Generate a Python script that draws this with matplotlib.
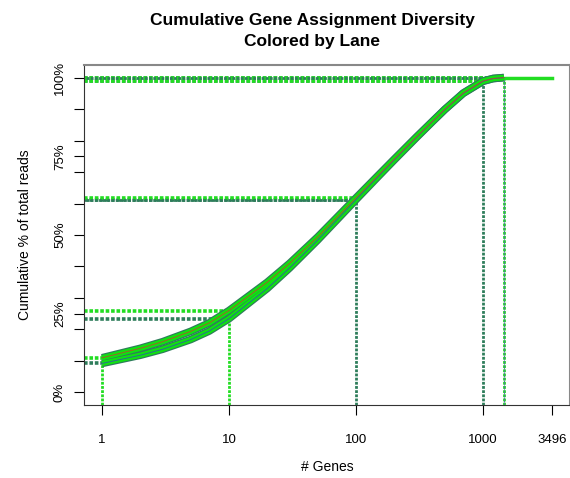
import matplotlib
matplotlib.use("Agg")
import matplotlib.pyplot as plt
import numpy as np

plt.rcParams['font.family'] = ['Liberation Sans', 'DejaVu Sans']

# cumulative % of reads covered by the top-N genes, one curve per lane
genes = [1, 2, 3, 5, 7, 10, 20, 30, 50, 70, 100, 150, 200, 300, 400, 500, 700, 1000, 1200, 1462]
lane1 = [9.2, 11.8, 13.7, 16.8, 19.5, 23.4, 33.0, 39.5, 48.4, 54.6, 61.2, 68.6, 73.8, 81.0, 86.0, 89.8, 95.0, 98.8, 99.7, 100.0]
lane2 = [11.0, 14.0, 16.1, 19.4, 22.1, 26.0, 35.0, 41.0, 49.4, 55.4, 61.8, 69.0, 74.1, 81.2, 86.1, 89.9, 95.1, 98.9, 99.7, 100.0]
lanes = [lane1, lane2]
lane_cols = ['#2E7D5B', '#22DD22']
mark_genes = [1, 10, 100, 1000, 1462]
vert_cols = ['#22DD22', '#22DD22', '#2E7D5B', '#2E7D5B', '#22DD22']
total_genes = 3496

fig = plt.figure(figsize=(5.7, 4.78), dpi=100)
ax = fig.add_axes([84/570, 1 - 405/478, 486/570, 340/478])

xmin, xmax = np.log10(1), np.log10(total_genes)
pad = 0.04 * (xmax - xmin)
ax.set_xscale('log')
ax.set_xlim(10**(xmin - pad), 10**(xmax + pad))
ax.set_ylim(-4, 104)

dots = (0, (1, 0.5))
# horizontal dotted guides from the axis to each marked gene count
for vals, col in zip(lanes, lane_cols):
    for g in mark_genes:
        v = vals[genes.index(g)]
        ax.plot([10**(xmin - pad), g], [v, v], color=col, lw=2.6, ls=dots, zorder=2)
# the upper ones at 100 genes and 100% are darker, drawn over
for g in [100, 1462]:
    v = lane1[genes.index(g)]
    ax.plot([10**(xmin - pad), g], [v, v], color='#2E7D5B', lw=2.0, ls=(0.75, (1, 0.5)), zorder=2)

# vertical dotted guides down to the x axis
for g, col in zip(mark_genes, vert_cols):
    v = min(lane1[genes.index(g)], lane2[genes.index(g)])
    ax.plot([g, g], [-4, v], color=col, lw=2.0, ls=dots, zorder=2)
ax.plot([1462, 1462], [-4, 100], color='#5070A0', lw=0.8, ls=dots, zorder=2)

# flat line out to the total number of genes
ax.plot([1462, total_genes], [100, 100], color='#22DD22', lw=2.5, zorder=3)

thin = ['#3050B0', '#C04030']
for vals in lanes:
    ax.plot(genes, vals, color='#2E7D5B', lw=5.5, solid_capstyle='butt', zorder=3)
for vals, tc in zip(lanes, thin):
    ax.plot(genes, vals, color='#11E011', lw=3.8, solid_capstyle='butt', zorder=4)
    ax.plot(genes, vals, color=tc, lw=0.7, alpha=0.8, zorder=5)

ax.set_xticks([1, 10, 100, 1000, total_genes])
ax.set_xticklabels(['1', '10', '100', '1000', str(total_genes)])
ax.xaxis.set_minor_locator(matplotlib.ticker.NullLocator())
ax.set_yticks([0, 10, 20, 25, 30, 40, 50, 60, 70, 75, 80, 90, 100])
ax.set_yticklabels(['0%', '', '', '25%', '', '', '50%', '', '', '75%', '', '', '100%'],
                   rotation=90, va='center')
ax.tick_params(axis='both', length=7, width=0.8, labelsize=9.5, direction='out')
ax.tick_params(axis='x', pad=14)
ax.tick_params(axis='y', pad=6)

for s in ['left', 'bottom']:
    ax.spines[s].set_color('#333333')
for s in ['top', 'right']:
    ax.spines[s].set_color('#888888')
    ax.spines[s].set_linewidth(1.5)

ax.set_xlabel('# Genes', fontsize=10, labelpad=10)
ax.set_ylabel('Cumulative % of total reads', fontsize=10, labelpad=16)
ax.set_title('Cumulative Gene Assignment Diversity\nColored by Lane',
             fontsize=12.5, fontweight='bold', pad=14, linespacing=1.45,
             x=(312-84)/486)

fig.savefig('out.png', dpi=100)
